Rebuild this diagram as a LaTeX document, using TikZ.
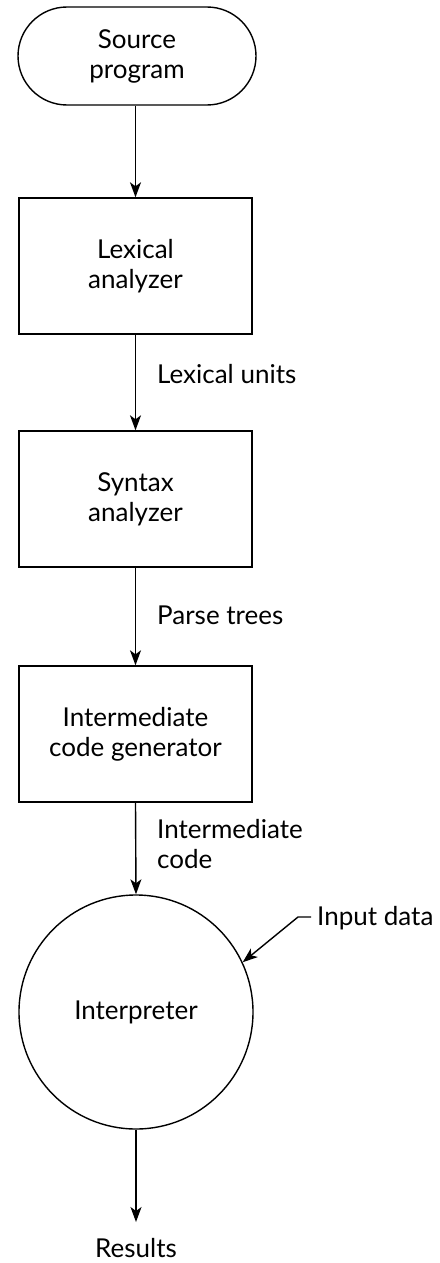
\documentclass[tikz,border=0pt]{standalone}
\usepackage{fontspec}
\setmainfont{Lato}
\usetikzlibrary{arrows.meta,shapes.misc}
\begin{document}
\begin{tikzpicture}[x=1pt,y=-1pt,
  every node/.style={font=\fontsize{26}{30}\selectfont},
  shape line/.style={draw,line width=1.4pt},
  blk/.style={shape line,minimum width=233pt,minimum height=136pt,align=center,inner sep=0pt},
  flow/.style={line width=1.4pt,-{Stealth[length=15pt,width=11pt,inset=4pt]}},
  lbl/.style={anchor=base west,inner sep=0pt}]
\useasboundingbox (0,0) rectangle (439,1263);
\node[shape line,rounded rectangle,minimum width=238pt,minimum height=98pt,align=center,inner sep=0pt] (src) at (137,56) {Source\\program};
\node[blk] (lex) at (135.5,266) {Lexical\\analyzer};
\node[blk] (syn) at (135.5,499) {Syntax\\analyzer};
\node[blk] (icg) at (135.5,734) {Intermediate\\code generator};
\node[shape line,circle,minimum size=234pt,inner sep=0pt] (interp) at (136,1012) {Interpreter};
\node[lbl] (lu) at (157,383) {Lexical units};
\node[lbl] (pt) at (157,624) {Parse trees};
\node[anchor=north west,inner sep=0pt,align=left] (ic) at (157,819) {Intermediate\\code};
\node[lbl] (inp) at (317,925) {Input data};
\node[anchor=base,inner sep=0pt] (res) at (136,1257) {Results};
\coordinate (inpS) at (311,917);
\coordinate (resT) at (136,1222);
\draw[flow] (src.south -| lex.north) -- (lex.north);
\draw[flow] (lex.south) -- (syn.north);
\draw[flow] (syn.south) -- (icg.north);
\draw[flow] (icg.south) -- (interp.north);
\draw[flow] (interp.south) -- (resT);
\draw[flow] (inpS) -- ++(-13,0) -- (interp.25);
\end{tikzpicture}
\end{document}
